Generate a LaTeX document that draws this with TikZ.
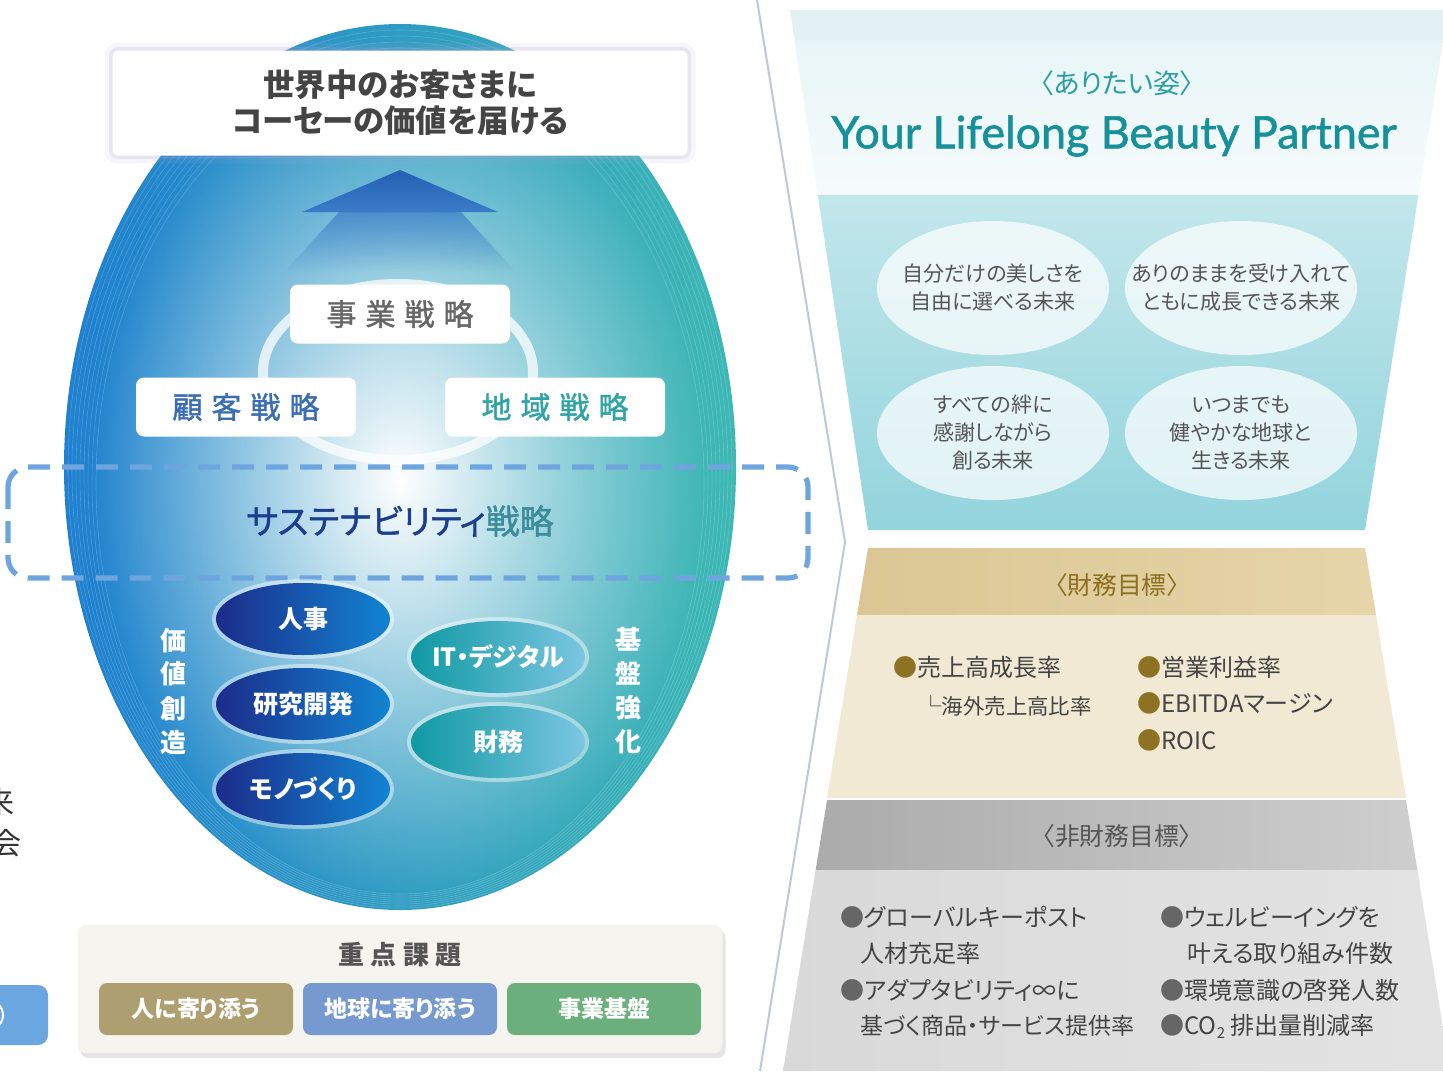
\documentclass[tikz,border=0pt]{standalone}
\usepackage{fontspec}
\setmainfont{Noto Sans CJK JP}[RawFeature=+palt]
\newfontfamily\brandfont{Lato}[BoldFont=Lato, BoldFeatures={FakeBold=1.3}]
\newfontfamily\medfont{Noto Sans CJK JP}[RawFeature=+palt, BoldFont=Noto Sans CJK JP, BoldFeatures={FakeBold=1.4}]
\usetikzlibrary{fadings,shapes.geometric,shadows}

\definecolor{eggblue}{HTML}{1F80D0}
\definecolor{eggteal}{HTML}{3DB8B4}
\definecolor{arrowblue}{HTML}{3A7CC8}
\definecolor{arrowdark}{HTML}{2460B4}
\definecolor{goalgray}{HTML}{444444}
\definecolor{glowlilac}{HTML}{B0A4D6}
\definecolor{bizgray}{HTML}{666666}
\definecolor{custblue}{HTML}{3B6DB3}
\definecolor{areateal}{HTML}{2FA3A6}
\definecolor{dashblue}{HTML}{6FA5DE}
\definecolor{susnavy}{HTML}{1B3F8C}
\definecolor{susteal}{HTML}{3C8C9C}
\definecolor{cellnavy}{HTML}{1B2C8A}
\definecolor{cellblue}{HTML}{1284D2}
\definecolor{cellteal}{HTML}{0F99A2}
\definecolor{celllight}{HTML}{7CC6E2}
\definecolor{issuebg}{HTML}{F6F4EE}
\definecolor{issuegray}{HTML}{555555}
\definecolor{themetan}{HTML}{AE9F70}
\definecolor{themeblue}{HTML}{7699D0}
\definecolor{themegreen}{HTML}{6AAF7C}
\definecolor{cutgray}{HTML}{333333}
\definecolor{cutblue}{HTML}{6AA6E0}
\definecolor{chevgray}{HTML}{C0C6DC}
\definecolor{skyband}{HTML}{E2F2F4}
\definecolor{skytop}{HTML}{E8F5F7}
\definecolor{tealtop}{HTML}{C2E7EB}
\definecolor{tealbot}{HTML}{93D4DD}
\definecolor{idealteal}{HTML}{2B9EA3}
\definecolor{brandteal}{HTML}{16909A}
\definecolor{futuregray}{HTML}{555555}
\definecolor{finhead}{HTML}{DBC593}
\definecolor{finheadr}{HTML}{E6D6AA}
\definecolor{finbody}{HTML}{F1E9D4}
\definecolor{finlight}{HTML}{FBF9F3}
\definecolor{fingold}{HTML}{8C6E1E}
\definecolor{bulletgold}{HTML}{8D7224}
\definecolor{nfhead}{HTML}{A9A9A9}
\definecolor{nfheadr}{HTML}{D0D0D0}
\definecolor{nfbody}{HTML}{D9D9D9}
\definecolor{nflight}{HTML}{F3F3F3}
\definecolor{itemgray}{HTML}{444444}
\definecolor{bulletgray}{HTML}{666666}

\newcommand{\goldbullet}{\textcolor{bulletgold}{●}}
\newcommand{\graybullet}{\textcolor{bulletgray}{●}}

\tikzfading[name=glowfade, inner color=transparent!0, outer color=transparent!100]
\tikzfading[name=bandfade, left color=transparent!100, middle color=transparent!0, right color=transparent!100]
\tikzfading[name=arrowfade, top color=transparent!10, bottom color=transparent!100]

\tikzset{
  goalbox/.style={fill=white, rounded corners=3pt, minimum width=287.5pt, minimum height=52.5pt,
    align=center, text=goalgray, font=\bfseries\fontsize{15.7}{18}\selectfont,
    preaction={draw=glowlilac, line width=8pt, opacity=0.1},
    preaction={draw=glowlilac, line width=3.5pt, opacity=0.2}},
  stratbox/.style={fill=white, rounded corners=4pt, minimum width=110pt, minimum height=29.5pt,
    font=\medfont\bfseries\fontsize{15}{18}\selectfont\addfontfeatures{LetterSpace=30}},
  dashbox/.style={draw=dashblue, line width=2.6pt, dash pattern=on 11pt off 6pt, rounded corners=10pt},
  valuecell/.style={left color=cellnavy, right color=cellblue,
    preaction={draw=white, line width=4pt, opacity=0.45}},
  basecell/.style={valuecell, left color=cellteal, right color=celllight},
  celltext/.style={text=white, inner sep=0pt, font=\bfseries\fontsize{12.5}{14}\selectfont},
  sidelabel/.style={align=center, text=white, inner sep=0pt, font=\bfseries\fontsize{13}{17}\selectfont},
  issuebox/.style={fill=issuebg, rounded corners=4pt, minimum width=322.5pt, minimum height=64pt,
    drop shadow={shadow xshift=1.5pt, shadow yshift=-2.5pt, opacity=0.2}},
  themebox/.style={rounded corners=4pt, minimum width=97pt, minimum height=26pt, text=white,
    font=\bfseries\fontsize{11.5}{14}\selectfont},
  chevron/.style={draw=chevgray, line width=1pt},
  futurecell/.style={fill=white, fill opacity=0.72},
  futuretext/.style={align=center, inner sep=0pt, text=futuregray, font=\fontsize{10.5}{14}\selectfont},
  headtext/.style={font=\fontsize{12.4}{14}\selectfont},
  item/.style={anchor=west, inner sep=0pt, text=itemgray, font=\fontsize{12}{14}\selectfont}
}

\begin{document}
\begin{tikzpicture}[x=0.5pt,y=-0.5pt]
  \useasboundingbox (0,0) rectangle (1443,1071);
  \clip (0,0) rectangle (1443,1071);
  \fill[white] (0,0) rectangle (1443,1071);

  % egg
  \shade[left color=eggblue, right color=eggteal] (400,467) ellipse [x radius=336, y radius=443];
  \foreach \d in {4,8,...,32}
    \draw[white, opacity=0.2, line width=0.3pt] (400,467+\d/2) ellipse [x radius=336-\d, y radius=443-\d];
  \fill[white, path fading=glowfade] (400,480) ellipse [x radius=310, y radius=420];

  % arrow
  \fill[arrowblue, path fading=arrowfade] (400,196) -- (340,211) -- (284,272) -- (516,272) -- (460,211) -- cycle;
  \shade[top color=arrowdark, bottom color=arrowblue] (400,170) -- (302,212) -- (498,212) -- cycle;

  % strategy ring
  \draw[white, opacity=0.75, line width=5pt] (398,372) ellipse [x radius=135, y radius=88];
  \node[stratbox, text=bizgray] (biz) at (400,314) {事業戦略};
  \node[stratbox, text=custblue] (cust) at (246,407) {顧客戦略};
  \node[stratbox, text=areateal] (area) at (555,407) {地域戦略};

  \node[goalbox] (goal) at (400,103) {世界中のお客さまに\\コーセーの価値を届ける};

  % sustainability
  \fill[white, path fading=bandfade] (105,490) rectangle (695,551);
  \node[font=\medfont\bfseries\fontsize{17}{20}\selectfont] (sus) at (400,521)
    {\textcolor{susnavy}{サステナビリティ}\textcolor{susteal}{戦略}};
  \draw[dashbox] (8,467) rectangle (808,578);

  % functions
  \path[valuecell] (303,619) ellipse [x radius=87, y radius=36];
  \path[valuecell] (303,704) ellipse [x radius=87, y radius=36];
  \path[valuecell] (303,789) ellipse [x radius=87, y radius=36];
  \path[basecell] (498,657) ellipse [x radius=87, y radius=36];
  \path[basecell] (498,742) ellipse [x radius=87, y radius=36];
  \node[celltext] (hr) at (303,619) {人事};
  \node[celltext] (rnd) at (303,704) {研究開発};
  \node[celltext] (mono) at (303,789) {モノづくり};
  \node[celltext] (it) at (498,657) {IT・デジタル};
  \node[celltext] (fin) at (498,742) {財務};
  \node[sidelabel] (create) at (173,691) {価\\値\\創\\造};
  \node[sidelabel] (base) at (628,691) {基\\盤\\強\\化};

  % material issues
  \node[issuebox] (issues) at (400,989) {};
  \node[text=issuegray, font=\bfseries\fontsize{13}{15}\selectfont\addfontfeatures{LetterSpace=25}] (issuetitle) at (400,955) {重点課題};
  \node[themebox, fill=themetan] (people) at (196,1009) {人に寄り添う};
  \node[themebox, fill=themeblue] (earth) at (400,1009) {地球に寄り添う};
  \node[themebox, fill=themegreen] (business) at (604,1009) {事業基盤};

  % cut off at the left edge
  \node[text=cutgray, font=\fontsize{15}{18}\selectfont] (cutA) at (0,802) {来};
  \node[text=cutgray, font=\fontsize{15}{18}\selectfont] (cutB) at (6,843) {会};
  \fill[cutblue, rounded corners=5pt] (-30,985) rectangle (48,1045);
  \draw[white, line width=1pt] (-12,1015) circle [radius=15];

  \draw[chevron] (757,0) -- (845,542) -- (760,1071);

  % ideal
  \begin{scope}
    \clip (790,10) -- (1448,10) -- (1365,530) -- (868,530) -- cycle;
    \fill[skyband] (780,10) rectangle (1450,40);
    \shade[top color=skytop, bottom color=white!60!skytop] (780,40) rectangle (1450,195);
    \shade[top color=tealtop, bottom color=tealbot] (780,195) rectangle (1450,530);
  \end{scope}
  \node[font=\fontsize{13.5}{16}\selectfont, text=idealteal] (ideal) at (1117,83) {〈ありたい姿〉};
  \node[font=\brandfont\bfseries\fontsize{22.4}{27}\selectfont, text=brandteal] (brand) at (1114,136) {Your Lifelong Beauty Partner};
  \path[futurecell] (993,288) ellipse [x radius=116, y radius=67];
  \path[futurecell] (1241,288) ellipse [x radius=116, y radius=67];
  \path[futurecell] (993,433) ellipse [x radius=116, y radius=67];
  \path[futurecell] (1241,433) ellipse [x radius=116, y radius=67];
  \node[futuretext] (f1) at (993,288) {自分だけの美しさを\\自由に選べる未来};
  \node[futuretext] (f2) at (1241,288) {ありのままを受け入れて\\ともに成長できる未来};
  \node[futuretext] (f3) at (993,433) {すべての絆に\\感謝しながら\\創る未来};
  \node[futuretext] (f4) at (1241,433) {いつまでも\\健やかな地球と\\生きる未来};

  % financial targets
  \begin{scope}
    \clip (868,548) -- (1365,548) -- (1406,798) -- (827,798) -- cycle;
    \shade[left color=finhead, right color=finheadr] (820,548) rectangle (1410,615);
    \shade[left color=finbody, middle color=finlight, right color=finbody] (820,615) rectangle (1410,798);
  \end{scope}
  \node[headtext, text=fingold] (finhead) at (1117,585) {〈財務目標〉};
  \node[item] (sales) at (893,667) {\goldbullet 売上高成長率};
  \node[item, font=\fontsize{10.7}{12}\selectfont] (overseas) at (920,706) {└海外売上高比率};
  \node[item] (op) at (1137,667) {\goldbullet 営業利益率};
  \node[item] (ebitda) at (1137,703) {\goldbullet EBITDAマージン};
  \node[item] (roic) at (1137,740) {\goldbullet ROIC};

  % non-financial targets
  \begin{scope}
    \clip (827,800) -- (1406,800) -- (1450,1071) -- (783,1071) -- cycle;
    \shade[left color=nfhead, right color=nfheadr] (780,800) rectangle (1450,870);
    \shade[left color=nfbody, middle color=nflight, right color=nfbody!60!nflight] (780,870) rectangle (1450,1071);
  \end{scope}
  \node[headtext, text=issuegray] (nfhead) at (1117,836) {〈非財務目標〉};
  \node[item] (post) at (840,917) {\graybullet グローバルキーポスト};
  \node[item] (post2) at (860,953) {人材充足率};
  \node[item] (adapt) at (840,990) {\graybullet アダプタビリティ∞に};
  \node[item, font=\fontsize{11.5}{14}\selectfont] (adapt2) at (860,1026) {基づく商品・サービス提供率};
  \node[item] (well) at (1160,917) {\graybullet ウェルビーイングを};
  \node[item] (well2) at (1187,953) {叶える取り組み件数};
  \node[item] (env) at (1160,990) {\graybullet 環境意識の啓発人数};
  \node[item] (co2) at (1160,1026) {\graybullet CO\raisebox{-0.3ex}{\fontsize{7.5}{8}\selectfont 2} 排出量削減率};
\end{tikzpicture}
\end{document}
